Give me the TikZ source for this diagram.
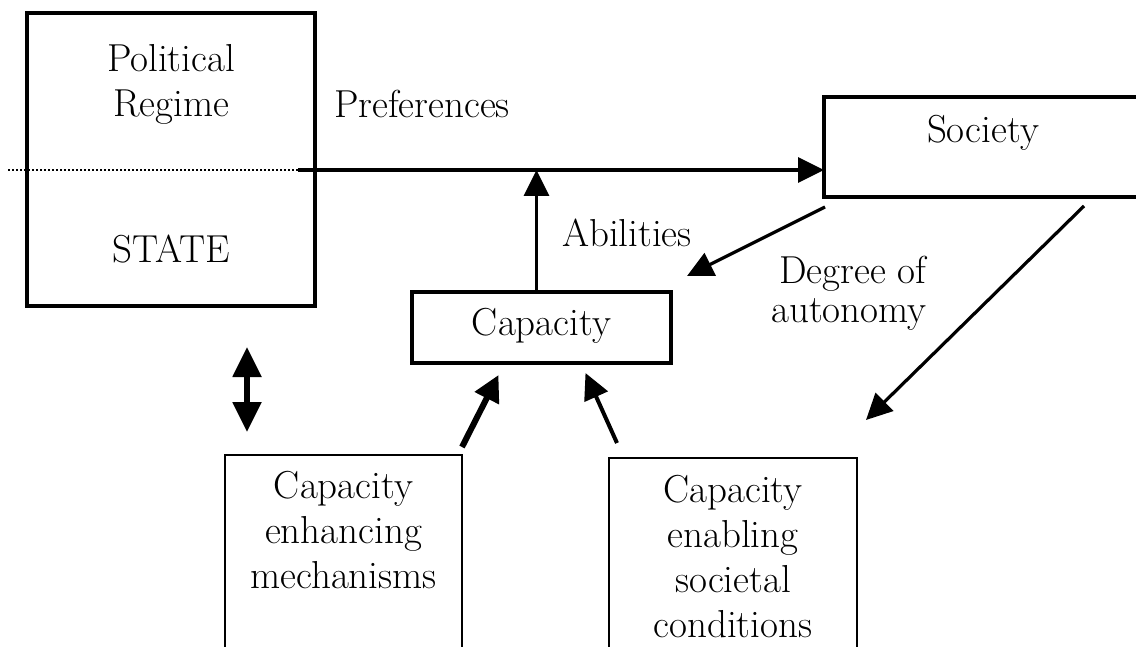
\documentclass[tikz,border=0pt]{standalone}
\usepackage{fontspec}
\usetikzlibrary{arrows.meta}
\begin{document}
\begin{tikzpicture}[x=0.5pt,y=-0.5pt,
  box/.style={draw, line width=2pt, inner sep=0pt, outer sep=0pt},
  thinbox/.style={draw, line width=1pt, inner sep=0pt, outer sep=0pt},
  txt/.style={anchor=base, inner sep=0pt, font=\fontsize{19.5}{23}\selectfont},
  dotline/.style={line width=0.8pt, dash pattern=on 1pt off 1pt},
  arr/.style={line width=1.6pt, -{Triangle[length=13pt,width=12.5pt]}},
  thickarr/.style={line width=3pt, -{Triangle[length=13pt,width=13pt]}},
  medarr/.style={line width=2pt, -{Triangle[length=13pt,width=12.5pt]}},
  dblarr/.style={line width=2.6pt, {Triangle[length=15pt,width=14pt]}-{Triangle[length=15pt,width=14pt]}}]
\useasboundingbox (0,0) rectangle (1136,647);
\clip (0,0) rectangle (1136,647);

% boxes
\node[box, minimum width=144pt, minimum height=146.5pt] (state) at (171,159.5) {};
\node[box, minimum width=163pt, minimum height=50pt] (society) at (987,147) {};
\node[box, minimum width=129.5pt, minimum height=35.5pt] (cap) at (541.5,327.5) {};
\node[thinbox, minimum width=118.5pt, minimum height=122.5pt] (bl) at (343.5,577.5) {};
\node[thinbox, minimum width=124pt, minimum height=121pt] (br) at (733,579) {};

% texts
\node[txt] (t1) at (171,72) {Political};
\node[txt] (t2) at (171,117) {Regime};
\node[txt] (t3) at (171,263) {STATE};
\node[txt] (t4) at (422,118) {Preferences};
\node[txt] (t5) at (983,143) {Society};
\node[txt] (t6) at (541.5,335) {Capacity};
\node[txt] (t7) at (627,247) {Abilities};
\node[txt, anchor=base east] (t8) at (927,283) {Degree of};
\node[txt, anchor=base east] (t9) at (927,322) {autonomy};
\node[txt] (b1) at (343.5,498) {Capacity};
\node[txt] (b2) at (343.5,543) {enhancing};
\node[txt] (b3) at (343.5,588) {mechanisms};
\node[txt] (c1) at (733,502) {Capacity};
\node[txt] (c2) at (733,547) {enabling};
\node[txt] (c3) at (733,592) {societal};
\node[txt] (c4) at (733,637) {conditions};

% connectors
\coordinate (dotstart) at (8,170);
\coordinate (pstart) at (298,170);
\draw[dotline] (dotstart) -- (pstart);
\draw[arr] (pstart) -- (pstart -| society.west);
\draw[arr] ([xshift=-2.5pt]cap.north) -- ([xshift=-2.5pt]cap.north |- pstart);
\draw[arr] ([shift={(1,10)}]society.south west) -- ([shift={(16,-16)}]cap.north east);
\draw[arr] ([shift={(97,9)}]society.south) -- ([shift={(9,-38)}]br.north east);
\draw[thickarr] ([shift={(0,-8)}]bl.north east) -- ([shift={(-43,12)}]cap.south);
\draw[medarr] ([shift={(8,-15)}]br.north west) -- ([shift={(44,10)}]cap.south);
\draw[dblarr] ([shift={(76,41)}]state.south) -- ([shift={(22,-23)}]bl.north west);
\end{tikzpicture}
\end{document}
